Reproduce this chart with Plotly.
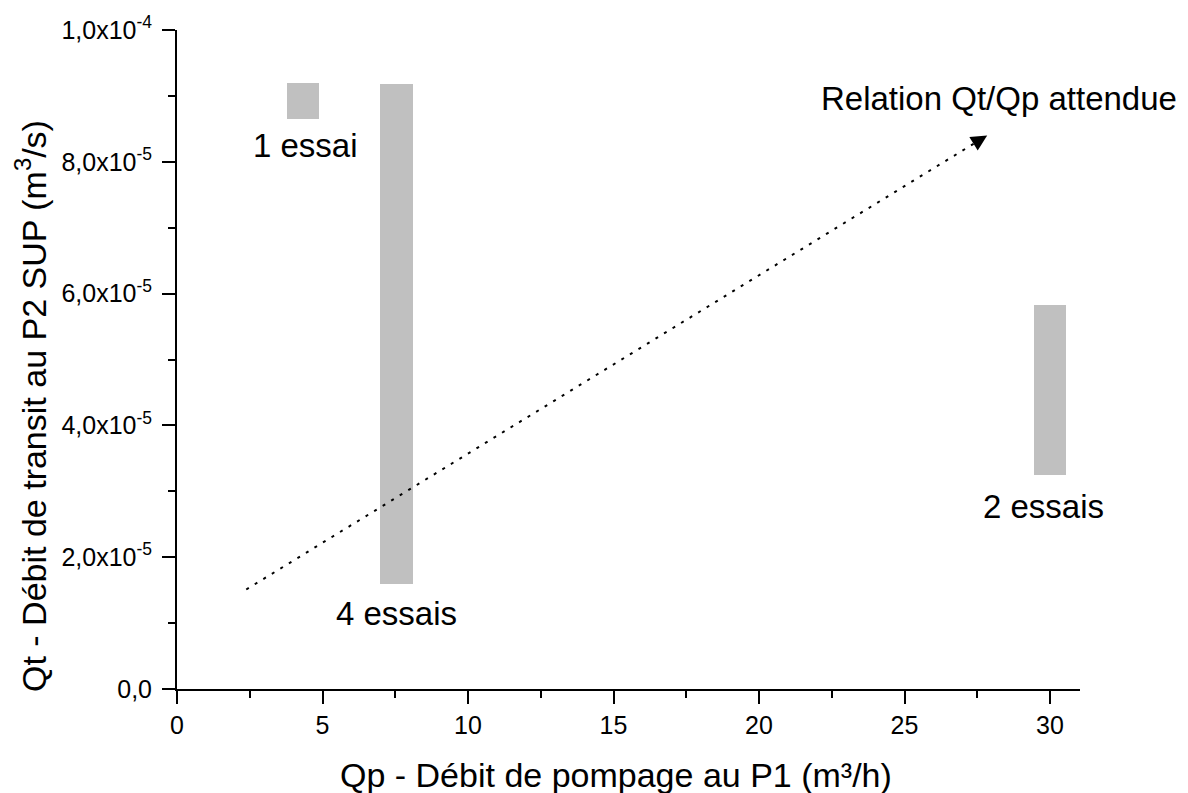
import plotly.graph_objects as go

# ---- data ----
bar_x = [4.33, 7.55, 30.0]            # Qp (m3/h) centre of each range box
bar_low = [8.65e-5, 1.60e-5, 3.24e-5]  # Qt lower bound (m3/s)
bar_high = [9.20e-5, 9.18e-5, 5.83e-5] # Qt upper bound (m3/s)
bar_width = 1.13

labels = ["1 essai", "4 essais", "2 essais"]
label_x = [4.43, 7.54, 29.77]
label_y = [8.24e-5, 1.14e-5, 2.77e-5]

arrow_x = [2.38, 27.84]
arrow_y = [1.51e-5, 8.40e-5]
arrow_label = "Relation Qt/Qp attendue"
arrow_label_x = 28.24
arrow_label_y = 8.96e-5

x_ticks = [0, 5, 10, 15, 20, 25, 30]
y_ticks = [0, 2e-5, 4e-5, 6e-5, 8e-5, 1e-4]
y_ticktext = ["0,0", "2,0x10<sup>-5</sup>", "4,0x10<sup>-5</sup>",
              "6,0x10<sup>-5</sup>", "8,0x10<sup>-5</sup>", "1,0x10<sup>-4</sup>"]

FONT = "Arial, Liberation Sans, sans-serif"

fig = go.Figure()

fig.add_trace(go.Bar(
    x=bar_x,
    base=bar_low,
    y=[h - l for h, l in zip(bar_high, bar_low)],
    width=bar_width,
    marker=dict(color="#c0c0c0", line=dict(width=0)),
    showlegend=False,
    hoverinfo="skip",
))

# dotted "expected relation" line
fig.add_trace(go.Scatter(
    x=arrow_x, y=arrow_y, mode="lines",
    line=dict(color="black", width=2, dash="3px,7px"),
    showlegend=False, hoverinfo="skip",
))

# arrow head at the end of the line
frac = 0.012
tail_x = arrow_x[1] - (arrow_x[1] - arrow_x[0]) * frac
tail_y = arrow_y[1] - (arrow_y[1] - arrow_y[0]) * frac
fig.add_annotation(
    x=arrow_x[1], y=arrow_y[1], ax=tail_x, ay=tail_y,
    xref="x", yref="y", axref="x", ayref="y",
    text="", showarrow=True, arrowhead=2, arrowsize=1.6,
    arrowwidth=2, arrowcolor="black",
)

for t, x, y in zip(labels, label_x, label_y):
    fig.add_annotation(x=x, y=y, xref="x", yref="y", text=t, showarrow=False,
                       font=dict(family=FONT, size=33, color="black"),
                       xanchor="center", yanchor="middle")

fig.add_annotation(x=arrow_label_x, y=arrow_label_y, xref="x", yref="y",
                   text=arrow_label, showarrow=False,
                   font=dict(family=FONT, size=33, color="black"),
                   xanchor="center", yanchor="middle")

# axis titles
fig.add_annotation(x=0.486, y=-0.13, xref="paper", yref="paper",
                   text="Qp - Débit de pompage au P1 (m³/h)", showarrow=False,
                   font=dict(family=FONT, size=34, color="black"),
                   xanchor="center", yanchor="middle")
fig.add_annotation(x=-0.162, y=0.429, xref="paper", yref="paper",
                   text="Qt - Débit de transit au P2 SUP (m<sup>3</sup>/s)",
                   showarrow=False, textangle=-90,
                   font=dict(family=FONT, size=34, color="black"),
                   xanchor="center", yanchor="middle")

fig.update_xaxes(
    range=[0, 31.03], tickvals=x_ticks, ticktext=[str(v) for v in x_ticks],
    showline=True, linecolor="black", linewidth=2,
    ticks="outside", ticklen=13, tickwidth=2, tickcolor="black",
    minor=dict(ticks="outside", ticklen=7, tickwidth=2, tickcolor="black", dtick=2.5, tick0=0),
    showgrid=False, zeroline=False, mirror=False,
    tickfont=dict(family=FONT, size=25, color="black"),
)
fig.update_yaxes(
    range=[0, 1e-4], tickvals=y_ticks, ticktext=y_ticktext,
    showline=True, linecolor="black", linewidth=2,
    ticks="outside", ticklen=13, tickwidth=2, tickcolor="black",
    minor=dict(ticks="outside", ticklen=7, tickwidth=2, tickcolor="black", dtick=1e-5, tick0=0),
    showgrid=False, zeroline=False, mirror=False, ticklabelstandoff=5,
    tickfont=dict(family=FONT, size=25, color="black"),
)

fig.update_layout(
    width=1188, height=793,
    margin=dict(l=177, r=108, t=25, b=104),
    plot_bgcolor="white", paper_bgcolor="white",
    showlegend=False, bargap=0,
)

fig.write_html("out.html")
